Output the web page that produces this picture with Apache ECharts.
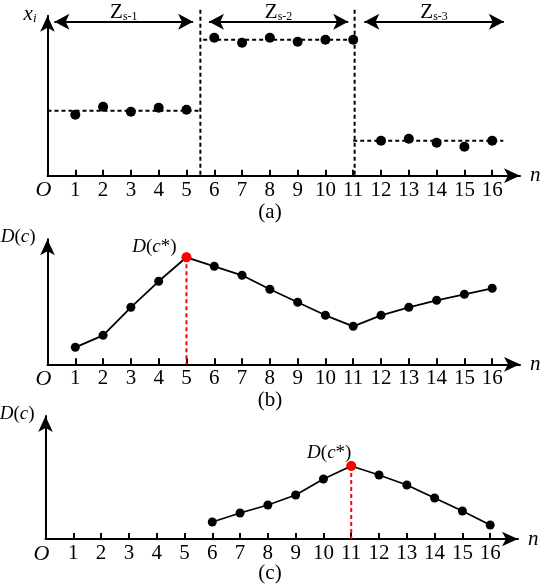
<!doctype html>
<html>
<head>
<meta charset="utf-8">
<title>Segments</title>
<script src="https://cdn.jsdelivr.net/npm/echarts@6/dist/echarts.min.js"></script>
<style>
  html, body { margin: 0; padding: 0; background: #fff; }
  #main { width: 550px; height: 587px; }
</style>
</head>
<body>
<div id="main"></div>
<script type="text/javascript">
// sample index n
var nIdx = [1, 2, 3, 4, 5, 6, 7, 8, 9, 10, 11, 12, 13, 14, 15, 16];
// (a) observations x_i
var xiValues = [6.1, 6.9, 6.4, 6.8, 6.6, 13.8, 13.3, 13.8, 13.4, 13.6, 13.6, 3.5, 3.7, 3.3, 2.9, 3.5];
// segment means and their extents
var segMeans = [6.5, 13.6, 3.5];
var meanSpans = [[0, 5.5], [5.6, 11], [11, 16.4]];
var segBreaks = [5.5, 11.05];
var breakTop = 16.6;
var segNames = ['s-1', 's-2', 's-3'];
var arrowSpans = [[0.25, 5.24], [5.81, 10.82], [11.4, 16.42]];
var arrowLevel = 15.4;
// (b) D(c) for every split point
var dAll = [1.7, 2.9, 5.7, 8.3, 10.7, 9.8, 8.9, 7.5, 6.2, 4.9, 3.8, 4.9, 5.7, 6.4, 7.0, 7.6];
// (c) D(c) inside the second part, n = 6..16
var nPart = [6, 7, 8, 9, 10, 11, 12, 13, 14, 15, 16];
var dPart = [1.7, 2.6, 3.4, 4.4, 6.0, 7.3, 6.4, 5.4, 4.1, 2.8, 1.4];
var tickVals = nIdx;
var labelVals = [0].concat(nIdx);

var FONT = '"Liberation Serif", "Times New Roman", serif';

function pairs(xs, ys) {
	return xs.map(function (x, i) { return [x, ys[i]]; });
}
function peakOf(xs, ys) {
	var k = 0;
	ys.forEach(function (v, i) { if (v > ys[k]) k = i; });
	return [xs[k], ys[k]];
}

function xAxisFor(grid) {
	return {
		type: 'value', gridIndex: grid, min: 0, max: 17,
		splitLine: { show: false },
		axisLine: { onZero: false, symbol: ['none', 'arrow'], symbolSize: [11, 16],
			lineStyle: { color: '#000', width: 2 } },
		axisTick: { show: true, inside: true, length: 6, customValues: tickVals,
			lineStyle: { color: '#000', width: 2 } },
		axisLabel: { customValues: labelVals, margin: 4, color: '#000', fontSize: 21,
			fontFamily: FONT, hideOverlap: false,
			formatter: function (v) { return v === 0 ? '{o|O}' : String(v); },
			rich: { o: { fontStyle: 'italic', fontSize: 22, fontFamily: FONT, color: '#000', padding: [0, 8, 0, 0] } } },
		name: 'n', nameLocation: 'end', nameGap: 10,
		nameTextStyle: { fontStyle: 'italic', fontSize: 21, fontFamily: FONT, color: '#000',
			verticalAlign: 'middle', padding: [4, 0, 0, 0] }
	};
}
function yAxisFor(grid, max, name, rich, pad) {
	return {
		type: 'value', gridIndex: grid, min: 0, max: max,
		splitLine: { show: false },
		axisTick: { show: false },
		axisLabel: { show: false },
		axisLine: { onZero: false, symbol: ['none', 'arrow'], symbolSize: [11, 16],
			lineStyle: { color: '#000', width: 2 } },
		name: name, nameLocation: 'end', nameGap: 2,
		nameTextStyle: { align: 'right', verticalAlign: 'middle', padding: [0, pad, 0, 0],
			fontFamily: FONT, color: '#000', rich: rich }
	};
}

var dRich = {
	i: { fontStyle: 'italic', fontSize: 19, fontFamily: FONT, color: '#000' },
	r: { fontSize: 19, fontFamily: FONT, color: '#000' }
};
var dName = '{i|D}{r|(}{i|c}{r|)}';
var dStarName = '{i|D}{r|(}{i|c}{r|*)}';
var xiRich = {
	x: { fontStyle: 'italic', fontSize: 21, fontFamily: FONT, color: '#000', lineHeight: 22, verticalAlign: 'bottom' },
	s: { fontStyle: 'italic', fontSize: 13, fontFamily: FONT, color: '#000', lineHeight: 10, verticalAlign: 'bottom' }
};

var dashedBlack = { color: '#000', width: 2, type: [4, 3] };
var dashedRed = { color: '#ff0000', width: 2, type: [4, 3] };

var markA = arrowSpans.map(function (s, i) {
	return [
		{ coord: [s[0], arrowLevel],
			label: { show: true, position: 'insideMiddleTop', distance: -1,
				formatter: '{z|Z}{s|' + segNames[i] + '}',
				rich: {
					z: { fontSize: 21, fontFamily: FONT, color: '#000', lineHeight: 22, verticalAlign: 'bottom' },
					s: { fontSize: 12, fontFamily: FONT, color: '#000', lineHeight: 9, verticalAlign: 'bottom' }
				} } },
		{ coord: [s[1], arrowLevel] }
	];
});

var series = [
	{
		type: 'scatter', xAxisIndex: 0, yAxisIndex: 0, clip: false, z: 5,
		data: pairs(nIdx, xiValues), symbolSize: 10,
		itemStyle: { color: '#000', opacity: 1 },
		markLine: { silent: true, symbol: ['arrow', 'arrow'], symbolSize: [12, 15],
			lineStyle: { color: '#000', width: 2, type: 'solid' }, data: markA }
	}
];
segMeans.forEach(function (m, i) {
	series.push({
		type: 'line', xAxisIndex: 0, yAxisIndex: 0, showSymbol: false, symbol: 'none',
		data: [[meanSpans[i][0], m], [meanSpans[i][1], m]],
		lineStyle: dashedBlack, z: 1
	});
});
segBreaks.forEach(function (b) {
	series.push({
		type: 'line', xAxisIndex: 0, yAxisIndex: 0, showSymbol: false, symbol: 'none', clip: false,
		data: [[b, breakTop], [b, 0]],
		lineStyle: dashedBlack, z: 1
	});
});

function curvePanel(grid, xs, ys, lblOffset) {
	var pk = peakOf(xs, ys);
	series.push({
		type: 'line', xAxisIndex: grid, yAxisIndex: grid,
		data: pairs(xs, ys), symbol: 'circle', symbolSize: 9, showSymbol: true,
		itemStyle: { color: '#000' }, lineStyle: { color: '#000', width: 1.8 }
	});
	series.push({
		type: 'line', xAxisIndex: grid, yAxisIndex: grid, showSymbol: false, symbol: 'none',
		data: [pk, [pk[0], 0]], lineStyle: dashedRed, z: 3
	});
	series.push({
		type: 'scatter', xAxisIndex: grid, yAxisIndex: grid, clip: false, z: 5,
		data: [pk], symbolSize: 10, itemStyle: { color: '#ff0000', opacity: 1 },
		label: { show: true, position: 'inside', offset: lblOffset, formatter: dStarName, rich: dRich }
	});
}
curvePanel(1, nIdx, dAll, [-32, -10]);
curvePanel(2, nPart, dPart, [-22, -13]);

var chart = echarts.init(document.getElementById('main'));
chart.setOption({
	animation: false,
	backgroundColor: '#fff',
	grid: [
		{ left: 47.5, right: 30, top: 15.7, height: 160, outerBoundsMode: 'none' },
		{ left: 47.5, right: 30, top: 239.3, height: 125, outerBoundsMode: 'none' },
		{ left: 45.5, right: 32, top: 416, height: 123, outerBoundsMode: 'none' }
	],
	xAxis: [xAxisFor(0), xAxisFor(1), xAxisFor(2)],
	yAxis: [
		yAxisFor(0, 16, '{x|x}{s|i}', xiRich, 11),
		yAxisFor(1, 12.5, dName, dRich, 12),
		yAxisFor(2, 12.3, dName, dRich, 11)
	],
	graphic: [
		{ type: 'text', x: 270, y: 212, style: { text: '(a)', font: '21px ' + FONT, fill: '#000', align: 'center', verticalAlign: 'middle' } },
		{ type: 'text', x: 270, y: 400, style: { text: '(b)', font: '21px ' + FONT, fill: '#000', align: 'center', verticalAlign: 'middle' } },
		{ type: 'text', x: 270, y: 573, style: { text: '(c)', font: '21px ' + FONT, fill: '#000', align: 'center', verticalAlign: 'middle' } }
	],
	series: series
});
</script>
</body>
</html>
